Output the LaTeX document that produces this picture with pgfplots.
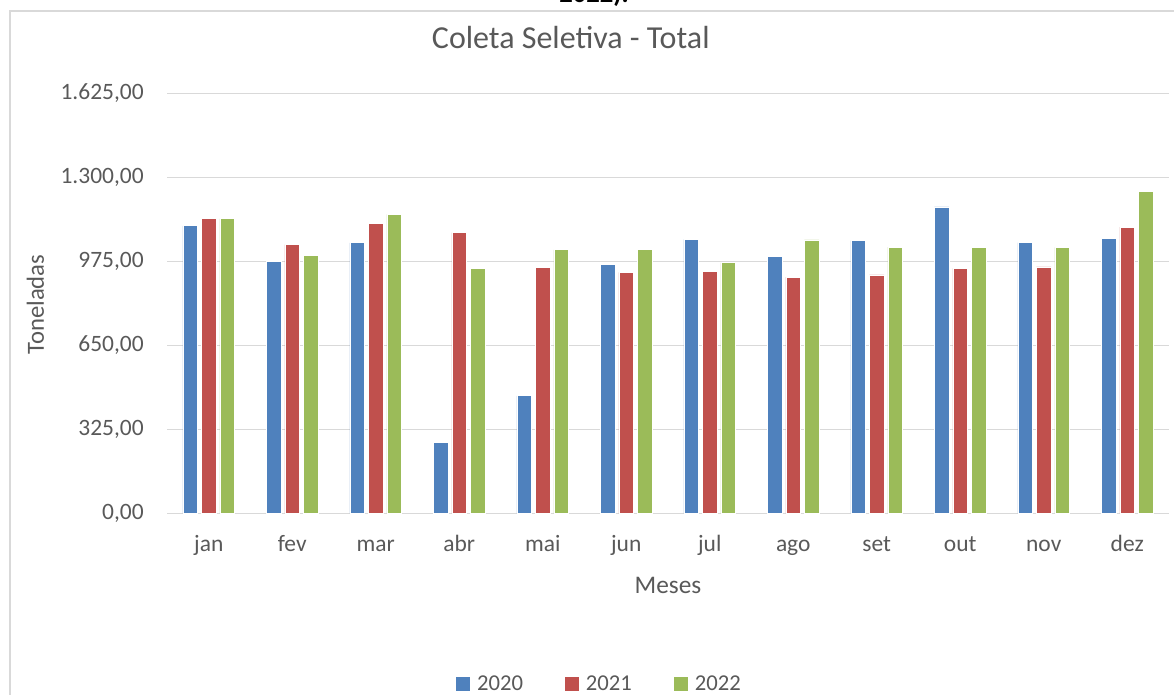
\documentclass[border=0pt]{standalone}
\usepackage{pgfplots}
\pgfplotsset{compat=1.18}
\usepackage{fontspec}
\setmainfont{Carlito}
\definecolor{c20}{HTML}{4F81BD}
\definecolor{c21}{HTML}{C0504D}
\definecolor{c22}{HTML}{9BBB59}
\definecolor{gridc}{HTML}{D9D9D9}
\definecolor{txt}{HTML}{595959}
\begin{document}
\begin{tikzpicture}[x=0.75pt,y=0.75pt]
\useasboundingbox (0,0) rectangle (1174,695);
\draw[gridc, line width=1.4pt] (10,-10) -- (10,684) -- (1184,684);
\node[anchor=base, font=\bfseries\fontsize{20}{24}\selectfont, text=black, inner sep=0pt] at (594,692.5) {2022).};
\begin{axis}[
  at={(125.25pt,136.275pt)}, anchor=south west,
  width=751.5pt, height=314.85pt, scale only axis,
  xmin=-0.5, xmax=11.5, ymin=0, ymax=1625,
  xtick={0,...,11},
  xticklabels={jan,fev,mar,abr,mai,jun,jul,ago,set,out,nov,dez},
  ytick={0,325,650,975,1300,1625},
  yticklabels={{0,00},{325,00},{650,00},{975,00},{1.300,00},{1.625,00}},
  ymajorgrids, grid style={gridc, line width=1.1pt},
  axis line style={draw=none},
  major tick length=0pt,
  tick label style={font=\fontsize{17.6}{20}\selectfont, text=txt},
  xticklabel style={anchor=base, inner sep=0pt, yshift=-28.8pt},
  yticklabel style={anchor=east, inner sep=0pt, xshift=-17.25pt},
  title={Coleta Seletiva - Total},
  title style={font=\fontsize{24}{28}\selectfont, text=txt, at={(axis description cs:0.403,1)}, anchor=base, yshift=27.75pt, inner sep=0pt},
  xlabel={Meses},
  xlabel style={font=\fontsize{19}{22}\selectfont, text=txt, at={(axis description cs:0.5,0)}, anchor=base, yshift=-60pt, inner sep=0pt},
  ylabel={Toneladas},
  ylabel style={font=\fontsize{18.5}{22}\selectfont, text=txt, at={(axis description cs:-0.1228,0.497)}, rotate=0, anchor=base, inner sep=0pt},
  legend columns=3,
  legend style={draw=none, fill=none, at={(axis description cs:0.4306,-0.4066)}, anchor=center,
    font=\fontsize{17}{20}\selectfont, text=txt,
    nodes={inner sep=0pt},
    /tikz/every odd column/.append style={column sep=5.25pt},
    /tikz/every even column/.append style={column sep=31.5pt}},
  legend image code/.code={\fill[#1, draw=none] (0pt,-5.25pt) rectangle (10.5pt,5.25pt);},
]
\addplot[ybar, bar width=0.175, bar shift=-0.222, fill=c20, draw=white, line width=0.5pt]
 coordinates {(0,1113) (1,975) (2,1047) (3,273) (4,455) (5,963) (6,1060) (7,994) (8,1055) (9,1186) (10,1048) (11,1063)};
\addplot[ybar, bar width=0.175, bar shift=0, fill=c21, draw=white, line width=0.5pt]
 coordinates {(0,1141) (1,1040) (2,1122) (3,1086) (4,953) (5,933) (6,936) (7,914) (8,923) (9,948) (10,954) (11,1108)};
\addplot[ybar, bar width=0.175, bar shift=0.222, fill=c22, draw=white, line width=0.5pt]
 coordinates {(0,1141) (1,999) (2,1157) (3,948) (4,1020) (5,1021) (6,970) (7,1058) (8,1030) (9,1029) (10,1029) (11,1247)};
\legend{2020,2021,2022}
\end{axis}
\end{tikzpicture}
\end{document}
